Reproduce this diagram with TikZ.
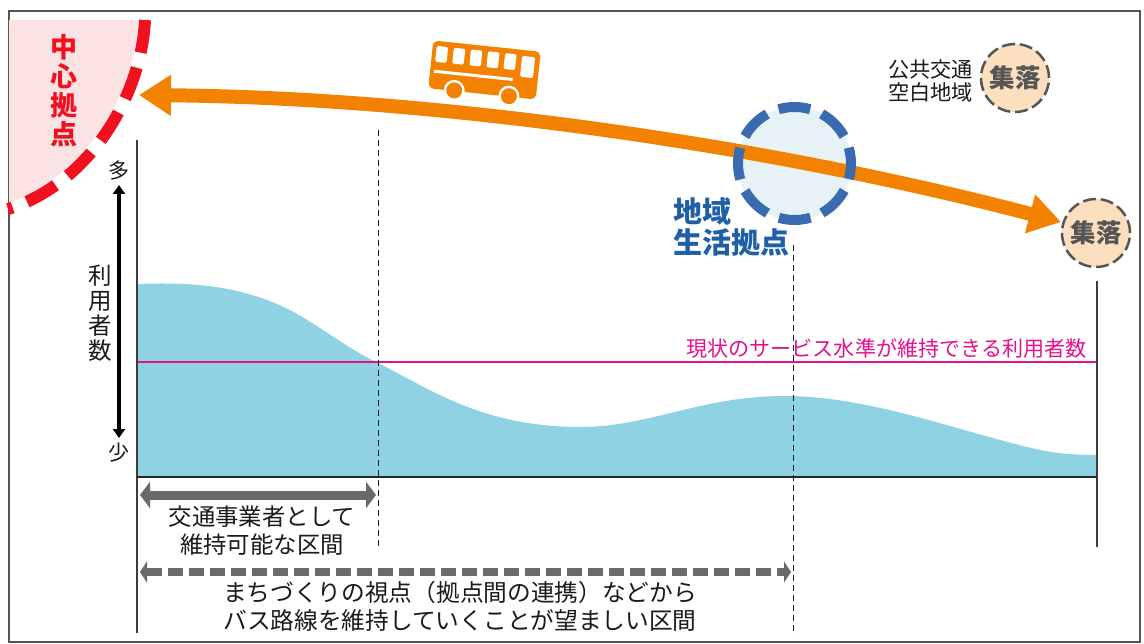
\documentclass[tikz,border=0pt]{standalone}
\usepackage{fontspec}
\setmainfont{Noto Sans CJK JP}
\usetikzlibrary{arrows.meta}
\definecolor{busor}{HTML}{F28200}
\definecolor{redc}{HTML}{F0101E}
\definecolor{pinkc}{HTML}{FCE3E3}
\definecolor{bluec}{HTML}{3A6BB0}
\definecolor{bluet}{HTML}{1F5FA8}
\definecolor{bluef}{HTML}{E6F2F6}
\definecolor{peach}{HTML}{FBDFBE}
\definecolor{areac}{HTML}{8FD2E3}
\definecolor{magc}{HTML}{E6108C}
\definecolor{txtc}{HTML}{1A1A1A}
\definecolor{greyc}{HTML}{6A6A6A}
\definecolor{greyd}{HTML}{555555}
\tikzset{
  settle/.style={circle,fill=peach,minimum size=68pt,inner sep=0pt,font=\fontsize{25.5}{27}\selectfont\bfseries,text=greyd},
  settlering/.style={draw=greyd,line width=2.5pt,dash pattern=on 13pt off 4.8pt},
  label/.style={text=txtc,font=\fontsize{23.4}{28}\selectfont,align=center,inner sep=0pt},
  vdash/.style={draw=txtc,line width=1pt,dash pattern=on 6pt off 4pt},
  thinline/.style={draw=txtc!85,line width=1.5pt},
  span/.style={draw=greyc,line width=9pt,{Triangle[length=10pt,width=26pt]}-{Triangle[length=10pt,width=26pt]}},
}
\begin{document}
\begin{tikzpicture}[x=1pt,y=-1pt]
\useasboundingbox (0,0) rectangle (1144,644);
\fill[white] (0,0) rectangle (1144,644);
\draw[greyd,line width=2.5pt] (9,11) rectangle (1140,642);
% central hub area
\fill[pinkc] (9,20) -- (138,20) .. controls (135,95) and (85,175) .. (9,203) -- cycle;
\coordinate (rA) at (145,20);
\coordinate (rB) at (8,209);
\draw[redc,line width=12pt,dash pattern=on 33pt off 15.5pt] (rA) .. controls (141,98) and (88,184) .. (rB);
\node[text=redc,font=\fontsize{27}{29}\selectfont\bfseries,align=center,inner sep=0pt] (hubtxt) at (64,91) {中\\心\\拠\\点};
% usage area
\fill[areac] (138,284) .. controls (190,282) and (240,285) .. (290,310)
  .. controls (320,326) and (345,347) .. (378,363)
  .. controls (425,386) and (480,427) .. (580,427)
  .. controls (650,427) and (700,396) .. (785,396)
  .. controls (870,396) and (960,432) .. (1040,450)
  .. controls (1060,454) and (1080,455) .. (1097,455)
  -- (1097,477) -- (138,477) -- cycle;
% axes
\coordinate (axT) at (137,140);
\coordinate (axB) at (137,633);
\coordinate (baseR) at (1097,477);
\coordinate (baseL) at (137,477);
\coordinate (rT) at (1097,281);
\coordinate (rB2) at (1097,547);
\coordinate (mL) at (137,362);
\coordinate (mR) at (1097,362);
\draw[magc,line width=1.2pt] (mL) -- (mR);
\draw[thinline] (axT) -- (axB);
\draw[thinline] (rT) -- (rB2);
\draw[black!85,line width=2pt] (baseL) -- (baseR);
\coordinate (d1T) at (378,130);
\coordinate (d1B) at (378,548);
\coordinate (d2T) at (793,245);
\coordinate (d2B) at (793,635);
\draw[vdash] (d1T) -- (d1B);
\draw[vdash] (d2T) -- (d2B);
% local hub fill
\node[circle,fill=bluef,minimum size=114pt,inner sep=0pt] (local) at (794.5,163.5) {};
% main route
\coordinate (tipL) at (139,95);
\coordinate (tipR) at (1061,222);
\draw[busor,line width=14pt,{Triangle[length=32pt,width=39pt]}-{Triangle[length=32pt,width=38pt]}]
  (tipL) .. controls (450,98) and (780,148) .. (tipR);
\draw[bluec,line width=10pt,dash pattern=on 32pt off 12.4pt,dash phase=16pt] (local.center) ++(56.5pt,0) arc[start angle=0,end angle=360,radius=56.5pt];
% settlements
\node[settle] (s1) at (1015,78) {集落};
\draw[settlering] (s1.center) circle[radius=34pt];
\node[settle] (s2) at (1096,233) {集落};
\draw[settlering] (s2.center) circle[radius=34pt];
% bus
\begin{scope}[shift={(484.5,70)},rotate=-6]
\fill[busor,rounded corners=5pt] (-54,-24) rectangle (54,24);
\foreach \i in {0,1,2,3,4}{
  \fill[white,rounded corners=2pt] (-50+\i*17.2,-19) rectangle ++(11.5,16);
}
\fill[white,rounded corners=2pt] (36,-18) rectangle (49,3);
\fill[white] (-50,5) rectangle (29,8);
\foreach \c in {-28,27}{
  \fill[white] (\c,23.5) circle[radius=10.5pt];
  \fill[busor] (\c,23.5) circle[radius=8pt];
}
\end{scope}
% texts
\node[label,font=\fontsize{21.2}{23.5}\selectfont] (kk) at (930.5,81) {公共交通\\空白地域};
\node[text=bluet,font=\fontsize{29}{31}\selectfont\bfseries,align=left,inner sep=0pt] (lh) at (731,227) {地域\\生活拠点};
\node[text=magc,font=\fontsize{21.1}{23}\selectfont,inner sep=0pt] (cur) at (886.5,348) {現状のサービス水準が維持できる利用者数};
% y axis
\node[label,font=\fontsize{21}{23}\selectfont] (many) at (119,171) {多};
\node[label,font=\fontsize{21}{23}\selectfont] (few) at (119,453) {少};
\coordinate (upT) at (119,185);
\coordinate (upB) at (119,438);
\draw[black,line width=3.5pt,{Triangle[length=9pt,width=12pt]}-{Triangle[length=9pt,width=12pt]}] (upT) -- (upB);
\node[label,font=\fontsize{23.5}{25}\selectfont] (uax) at (100,313) {利\\用\\者\\数};
% spans
\coordinate (a1) at (140,495);
\coordinate (a2) at (376,495);
\coordinate (b1) at (140,572);
\coordinate (b2) at (791,572);
\draw[span] (a1) -- (a2);
\draw[span,line width=8pt,dash pattern=on 15.5pt off 5.5pt,{Triangle[length=7pt,width=21pt]}-{Triangle[length=7pt,width=21pt]}] (b1) -- (b2);
\node[label] (t1) at (262,531) {交通事業者として\\維持可能な区間};
\node[label,font=\fontsize{23.7}{28}\selectfont] (t2) at (460,606) {まちづくりの視点（拠点間の連携）などから\\バス路線を維持していくことが望ましい区間};
\end{tikzpicture}
\end{document}
